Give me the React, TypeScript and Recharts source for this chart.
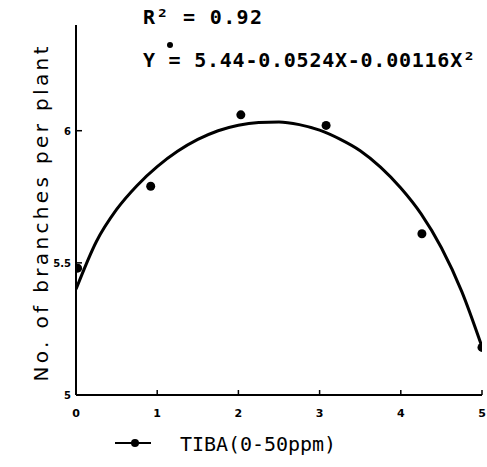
import React from 'react';
import { ComposedChart, Line, Scatter, XAxis, YAxis, Customized } from 'recharts';

// observed means (TIBA level, branches per plant)
const doseLevels = [0.02, 0.92, 2.03, 3.08, 4.26, 5.0];
const branchCounts = [5.48, 5.79, 6.06, 6.02, 5.61, 5.18];

// fitted curve as drawn in the figure, read every 0.25
const curveX = [0, 0.25, 0.5, 0.75, 1, 1.25, 1.5, 1.75, 2, 2.25, 2.5, 2.75, 3, 3.25, 3.5, 3.75, 4, 4.25, 4.5, 4.75, 5];
const curveY = [5.4, 5.58, 5.702, 5.792, 5.864, 5.922, 5.967, 6.0, 6.021, 6.031, 6.033, 6.023, 6.002, 5.968, 5.924, 5.862, 5.783, 5.685, 5.557, 5.392, 5.182];

const xTicks = [0, 1, 2, 3, 4, 5];
const yTicks = [5, 5.5, 6];

const seriesName = 'TIBA(0-50ppm)';
const r2Text = 'R\u00b2 = 0.92';
const eqText = 'Y = 5.44-0.0524X-0.00116X\u00b2';
const yTitle = 'No. of branches per plant';

const points = doseLevels.map((x, i) => ({ x, y: branchCounts[i] }));
const curve = curveX.map((x, i) => ({ x, y: curveY[i] }));

const mono = '"DejaVu Sans Mono", monospace';

const XTick = ({ x, y, payload }: any) => (
  <g>
    <line x1={x} y1={y} x2={x} y2={y - 5} stroke="#000" strokeWidth={1.5} />
    <text x={x} y={y + 22} textAnchor="middle" fontFamily="DejaVu Sans" fontWeight="bold" fontSize={11} fill="#000">
      {payload.value}
    </text>
  </g>
);

const YTick = ({ x, y, payload }: any) => (
  <g>
    <line x1={x} y1={y} x2={x + 6} y2={y} stroke="#000" strokeWidth={1.5} />
    <text x={x - 5} y={y + 4} textAnchor="end" fontFamily="DejaVu Sans" fontWeight="bold" fontSize={10} fill="#000">
      {payload.value}
    </text>
  </g>
);

const Overlay = () => (
  <g>
    <text x={143} y={24} fontFamily={mono} fontWeight="bold" fontSize={20} textLength={119} fill="#000">
      {r2Text}
    </text>
    <text x={143} y={67} fontFamily={mono} fontWeight="bold" fontSize={20} textLength={332} fill="#000">
      {eqText}
    </text>
    <circle cx={170} cy={45} r={3} fill="#000" />
    <text
      x={0}
      y={0}
      transform="translate(48,214) rotate(-90)"
      textAnchor="middle"
      fontFamily="DejaVu Sans"
      fontSize={20}
      textLength={335}
      fill="#000"
    >
      {yTitle}
    </text>
    <line x1={115} y1={443} x2={151} y2={443} stroke="#000" strokeWidth={2} />
    <circle cx={135} cy={443} r={4} fill="#000" />
    <text x={180} y={451} fontFamily={mono} fontSize={20} textLength={156} fill="#000">
      {seriesName}
    </text>
  </g>
);

export default function App() {
  return (
    <div style={{ position: 'absolute', left: 0, top: 0, background: '#fff' }}>
      <ComposedChart width={487} height={467} margin={{ top: 25, right: 5, bottom: 42, left: 0 }}>
        <XAxis
          type="number"
          dataKey="x"
          domain={[0, 5]}
          ticks={xTicks}
          tick={XTick}
          tickLine={false}
          tickSize={0}
          tickMargin={0}
          height={30}
          axisLine={{ stroke: '#000', strokeWidth: 2 }}
          allowDataOverflow
        />
        <YAxis
          type="number"
          dataKey="y"
          domain={[5, 6.4]}
          ticks={yTicks}
          tick={YTick}
          tickLine={false}
          tickSize={0}
          tickMargin={0}
          width={76}
          axisLine={{ stroke: '#000', strokeWidth: 2 }}
          allowDataOverflow
        />
        <Line
          data={curve}
          dataKey="y"
          type="monotoneX"
          stroke="#000"
          strokeWidth={3}
          dot={false}
          activeDot={false}
          isAnimationActive={false}
        />
        <Scatter data={points} dataKey="y" fill="#000" shape={(p: any) => <circle cx={p.cx} cy={p.cy} r={4.5} fill="#000" />} isAnimationActive={false} />
        <Customized component={Overlay} />
      </ComposedChart>
    </div>
  );
}
